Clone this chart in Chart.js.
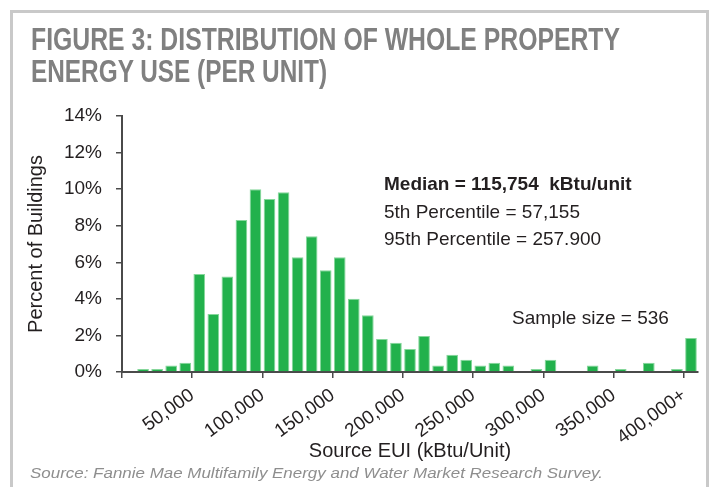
<!DOCTYPE html>
<html>
<head>
<meta charset="utf-8">
<script src="https://cdn.jsdelivr.net/npm/chart.js@4.4.0/dist/chart.umd.min.js"></script>
<style>
html,body{margin:0;padding:0;width:712px;height:487px;overflow:hidden;background:#fff;}
#frame{position:absolute;left:10px;top:10px;width:699px;height:520px;border:3px solid #c9c9c9;box-sizing:border-box;}
#chartWrap{position:absolute;left:0;top:0;width:712px;height:487px;}
.title{position:absolute;left:31px;font-family:"Liberation Sans Narrow","Liberation Sans",Arial,sans-serif;font-weight:bold;font-size:31px;line-height:31px;color:#808080;white-space:nowrap;transform-origin:0 0;}
.note{position:absolute;font-family:"Liberation Sans",Arial,sans-serif;font-size:19px;line-height:19px;color:#231f20;white-space:nowrap;}
#source{position:absolute;left:30px;top:465px;font-family:"Liberation Sans",Arial,sans-serif;font-style:italic;font-size:15px;line-height:15px;color:#8e8e8e;white-space:nowrap;transform-origin:0 0;}
</style>
</head>
<body>
<div id="frame"></div>
<div id="chartWrap"><canvas id="c" width="712" height="487"></canvas></div>
<span class="title" id="t1" style="top:24px;">FIGURE 3: DISTRIBUTION OF WHOLE PROPERTY</span>
<span class="title" id="t2" style="top:56px;">ENERGY USE (PER UNIT)</span>
<div class="note" style="left:384px;top:174px;font-weight:bold;">Median = 115,754&nbsp; kBtu/unit</div>
<div class="note" style="left:384px;top:202px;">5th Percentile = 57,155</div>
<div class="note" style="left:384px;top:229px;">95th Percentile = 257.900</div>
<div class="note" style="left:512px;top:308px;">Sample size = 536</div>
<span id="source">Source: Fannie Mae Multifamily Energy and Water Market Research Survey.</span>
<script>
// Bin midpoints of Source EUI (kBtu/unit), 10,000-wide bins; last bin = 400,000+
const binMidpoints = [5000, 15000, 25000, 35000, 45000, 55000, 65000, 75000, 85000, 95000,
  105000, 115000, 125000, 135000, 145000, 155000, 165000, 175000, 185000, 195000,
  205000, 215000, 225000, 235000, 245000, 255000, 265000, 275000, 285000, 295000,
  305000, 315000, 325000, 335000, 345000, 355000, 365000, 375000, 385000, 395000, 405000];
// Percent of buildings in each bin
const percentOfBuildings = [0, 0.17, 0.17, 0.35, 0.51, 5.36, 3.17, 5.22, 8.31, 10.0,
  9.46, 9.83, 6.27, 7.42, 5.56, 6.27, 4.0, 3.1, 1.8, 1.6,
  1.26, 1.97, 0.35, 0.95, 0.67, 0.35, 0.51, 0.35, 0, 0.17,
  0.67, 0, 0, 0.35, 0, 0.17, 0, 0.51, 0, 0.17, 1.86];
const xTickValues = [0, 50000, 100000, 150000, 200000, 250000, 300000, 350000, 400000];
const xTickLabels = ['', '50,000', '100,000', '150,000', '200,000', '250,000', '300,000', '350,000', '400,000+'];
const yTickValues = [0, 2, 4, 6, 8, 10, 12, 14];
const yTickLabels = ['0%', '2%', '4%', '6%', '8%', '10%', '12%', '14%'];

function fitWidth(id, w){
  const el = document.getElementById(id);
  const r = el.getBoundingClientRect().width;
  el.style.transform = 'scaleX(' + (w / r) + ')';
}
fitWidth('t1', 589);
fitWidth('t2', 296);
fitWidth('source', 573);

Chart.defaults.font.family = '"Liberation Sans", Arial, sans-serif';
const axisColor = '#4a4a4a';
const textColor = '#231f20';

new Chart(document.getElementById('c'), {
  type: 'bar',
  data: {
    datasets: [{
      data: binMidpoints.map((x, i) => ({x: x, y: percentOfBuildings[i]})),
      backgroundColor: '#22b14c',
      borderColor: '#86d79b',
      borderWidth: 1,
      barPercentage: 0.83,
      categoryPercentage: 1
    }]
  },
  options: {
    responsive: false,
    animation: false,
    devicePixelRatio: 1,
    layout: {padding: {left: 20, top: 116, right: 14, bottom: 22}},
    plugins: {legend: {display: false}, tooltip: {enabled: false}},
    scales: {
      x: {
        type: 'linear',
        min: 0,
        max: 410000,
        offset: false,
        afterBuildTicks: s => { s.ticks = xTickValues.map(v => ({value: v})); },
        afterFit: s => { s.height = 93; },
        grid: {offset: false, drawOnChartArea: false, drawTicks: true, tickLength: 6, color: axisColor, lineWidth: 1.5},
        border: {display: true, color: axisColor, width: 2},
        ticks: {
          autoSkip: false, minRotation: 36, maxRotation: 36, padding: 6,
          color: textColor, font: {size: 19},
          callback: (v, i) => xTickLabels[i]
        },
        title: {display: true, text: 'Source EUI (kBtu/Unit)', color: textColor, font: {size: 20}, padding: {top: 0, bottom: 2}}
      },
      y: {
        min: 0,
        max: 14,
        afterBuildTicks: s => { s.ticks = yTickValues.map(v => ({value: v})); },
        afterFit: s => { s.width = 102; },
        grid: {offset: false, drawOnChartArea: false, drawTicks: true, tickLength: 6, color: axisColor, lineWidth: 1.5},
        border: {display: true, color: axisColor, width: 2},
        ticks: {
          padding: 14, color: textColor, font: {size: 19},
          callback: (v, i) => yTickLabels[i]
        },
        title: {display: true, text: 'Percent of Buildings', color: textColor, font: {size: 20}, padding: {top: 4, bottom: 4}}
      }
    }
  }
});
</script>
</body>
</html>
